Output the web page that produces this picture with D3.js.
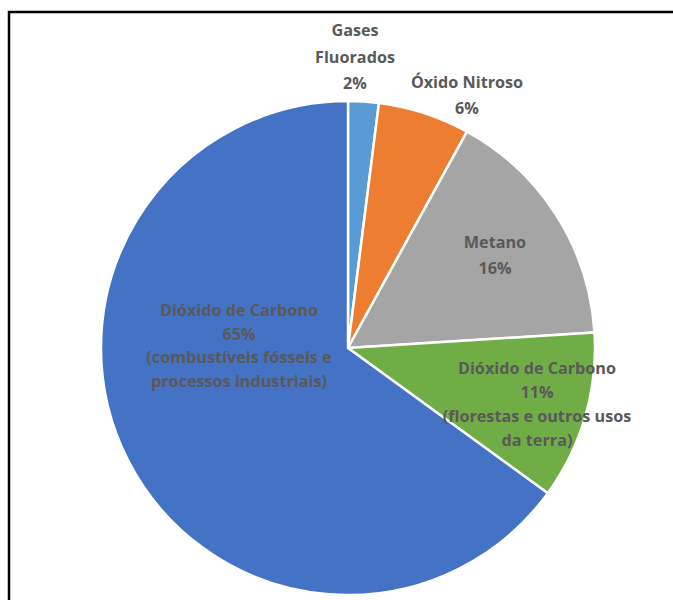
<!DOCTYPE html>
<html>
<head>
<meta charset="utf-8">
<script src="https://cdn.jsdelivr.net/npm/d3@7"></script>
<style>
  html, body { margin: 0; padding: 0; background: #fff; }
  svg { display: block; }
</style>
</head>
<body>
<svg id="chart" width="673" height="600"></svg>
<script>
// Emissões globais de gases de efeito estufa por tipo de gás
const categories = [
  "Gases Fluorados",
  "Óxido Nitroso",
  "Metano",
  "Dióxido de Carbono (florestas)",
  "Dióxido de Carbono (fósseis)"
];
const values = [2, 6, 16, 11, 65];
const colors = ["#5B9BD5", "#ED7D31", "#A5A5A5", "#70AD47", "#4472C4"];
// Label text lines for each slice (value line is built from values)
const labelHead = [["Gases", "Fluorados"], ["Óxido Nitroso"], ["Metano"], ["Dióxido de Carbono"], ["Dióxido de Carbono"]];
const labelTail = [[], [], [], ["(florestas e outros usos", "da terra)"], ["(combustíveis fósseis e", "processos industriais)"]];
// Label anchor positions (center of the first line)
const labelPos = [[355, 30], [467, 82], [495, 242], [537, 368], [239, 310]];
const lineGap = [26.5, 26, 26, 24, 23.5];

const svg = d3.select("#chart");

// frame lines (top and left)
svg.append("path")
  .attr("d", "M9,600 V12 H673")
  .attr("fill", "none")
  .attr("stroke", "#000")
  .attr("stroke-width", 2.5);

const cx = 348, cy = 348, r = 247;
const g = svg.append("g").attr("transform", `translate(${cx},${cy})`);

const pie = d3.pie().sort(null).value(d => d).startAngle(0).endAngle(2 * Math.PI);
const arc = d3.arc().innerRadius(0).outerRadius(r);

g.selectAll("path.slice")
  .data(pie(values))
  .join("path")
  .attr("class", "slice")
  .attr("d", arc)
  .attr("fill", (d, i) => colors[i])
  .attr("stroke", "#fff")
  .attr("stroke-width", 2.5)
  .attr("stroke-linejoin", "round");

// labels
const labels = svg.append("g")
  .attr("font-family", "'Open Sans', sans-serif")
  .attr("font-weight", "bold")
  .attr("font-size", 16.2)
  .attr("fill", "#595959")
  .attr("text-anchor", "middle");

values.forEach((v, i) => {
  const lines = [...labelHead[i], v + "%", ...labelTail[i]];
  const t = labels.append("text")
    .attr("x", labelPos[i][0])
    .attr("y", labelPos[i][1])
    .attr("dominant-baseline", "central");
  lines.forEach((ln, j) => {
    t.append("tspan")
      .attr("x", labelPos[i][0])
      .attr("y", labelPos[i][1] + j * lineGap[i])
      .text(ln);
  });
});
</script>
</body>
</html>
